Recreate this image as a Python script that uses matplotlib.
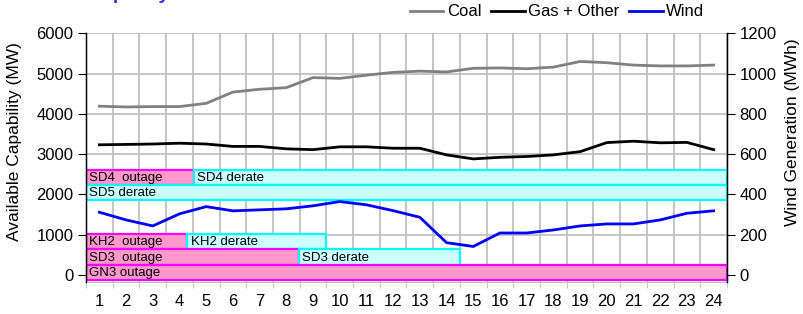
import matplotlib
import matplotlib.pyplot as plt
import numpy as np

matplotlib.use("Agg")

plt.rcParams["font.family"] = ["Liberation Sans", "DejaVu Sans"]

hours = list(range(1, 25))

coal = [4190, 4170, 4180, 4180, 4260, 4540, 4610, 4650, 4900, 4880, 4960, 5030,
        5060, 5040, 5130, 5140, 5120, 5160, 5300, 5270, 5210, 5190, 5190, 5210]
gas_other = [3230, 3240, 3250, 3270, 3250, 3190, 3190, 3130, 3110, 3180, 3180, 3145,
             3145, 2980, 2880, 2920, 2940, 2980, 3060, 3285, 3320, 3280, 3290, 3110]
wind = [311, 273, 243, 303, 339, 318, 323, 328, 343, 364, 348, 319,
        286, 160, 141, 208, 208, 223, 243, 253, 253, 273, 306, 318]

# outage / derate boxes: label, start hour, end hour, bottom, top, kind
box_labels = ["SD4  outage", "SD4 derate", "SD5 derate", "KH2  outage", "KH2 derate",
              "SD3  outage", "SD3 derate", "GN3 outage"]
box_start = [0.5, 4.55, 0.5, 0.5, 4.3, 0.5, 8.47, 0.5]
box_end = [4.55, 24.5, 24.5, 4.3, 9.5, 8.47, 14.5, 24.5]
box_bottom = [2225, 2225, 1855, 630, 630, 250, 250, -135]
box_top = [2615, 2615, 2225, 1010, 1010, 630, 630, 250]
box_kind = ["outage", "derate", "derate", "outage", "derate", "outage", "derate", "outage"]

fills = {"outage": "#FF99CC", "derate": "#CCFFFF"}
edges = {"outage": "#FF00FF", "derate": "#00FFFF"}

fig = plt.figure(figsize=(8.04, 3.14), dpi=100)
ax = fig.add_axes([86 / 804, 1 - 281.7 / 314, (727 - 86) / 804, (281.7 - 33.3) / 314])
ax2 = ax.twinx()

# grid
ax.set_xlim(0.5, 24.5)
ax.set_ylim(-170, 6000)
ax.set_yticks(range(0, 6001, 1000))
ax.set_xticks(hours)
ax.set_xticks(np.arange(0.5, 25, 1), minor=True)
ax.grid(True, which="minor", axis="x", color="#C0C0C0", lw=1.3, zorder=0)
ax.grid(True, which="major", axis="y", color="#C0C0C0", lw=1.3, zorder=0)
ax.set_axisbelow(True)

for lab, x0, x1, y0, y1, kind in zip(box_labels, box_start, box_end, box_bottom, box_top, box_kind):
    ax.barh(y0, x1 - x0, height=y1 - y0, left=x0, align="edge",
            color=fills[kind], edgecolor=edges[kind], lw=1.6, zorder=2)
    ax.text(x0 + 0.12, (y0 + y1) / 2 - 15, lab, fontsize=9.5, va="center", ha="left", zorder=3)

l1, = ax.plot(hours, coal, color="#808080", lw=2, zorder=4, label="Coal")
l2, = ax.plot(hours, gas_other, color="black", lw=2, zorder=4, label="Gas + Other")
l3, = ax2.plot(hours, wind, color="#0000FF", lw=2, zorder=4, label="Wind")

ax2.set_ylim(-34, 1200)
ax2.set_yticks(range(0, 1201, 200))

for s in ["top"]:
    ax.spines[s].set_visible(False)
    ax2.spines[s].set_visible(False)
ax.spines["bottom"].set_color("#C0C0C0")
ax2.spines["bottom"].set_visible(False)
ax.spines["left"].set_linewidth(1.0)
ax2.spines["right"].set_linewidth(1.0)

ax.tick_params(axis="y", direction="out", length=6, labelsize=12, pad=3)
ax2.tick_params(axis="y", direction="out", length=6, labelsize=12, pad=3)
ax.tick_params(axis="x", which="major", length=0, labelsize=12, pad=9)
ax.tick_params(axis="x", which="minor", length=4, color="#C0C0C0")

ax.set_ylabel("Available Capability (MW)", fontsize=12.5)
ax.yaxis.set_label_coords(-0.1, 0.566)
ax2.set_ylabel("Wind Generation (MWh)", fontsize=12.5)
ax2.yaxis.set_label_coords(1.09, 0.603)

fig.legend(handles=[l1, l2, l3], loc="center right", bbox_to_anchor=(719 / 804, 1 - 12 / 314),
           ncol=3, frameon=False, fontsize=12, handlelength=2.0, handletextpad=0.2,
           columnspacing=0.6)

# title, mostly cut off at the top edge
fig.text(88 / 804, 1 + 1 / 314, "Capacity", color="#3333CC", fontsize=14,
         fontweight="bold", ha="left", va="baseline")

fig.savefig("out.png", dpi=100)
